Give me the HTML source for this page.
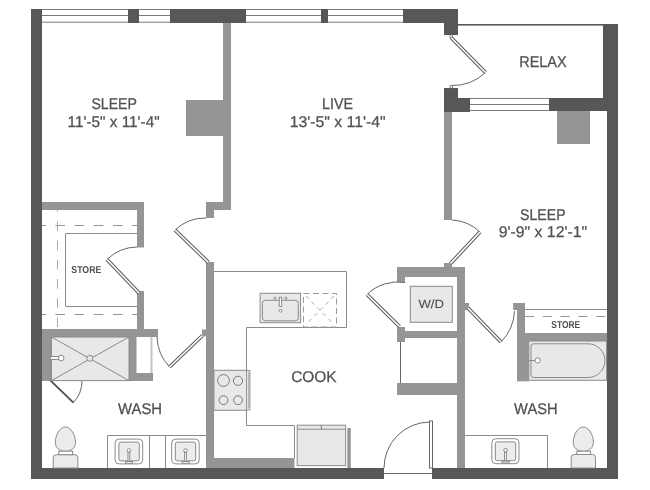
<!DOCTYPE html>
<html><head><meta charset="utf-8">
<style>
html,body{margin:0;padding:0;background:#fff;}
svg{display:block;}

text{font-family:"Liberation Sans",sans-serif;fill:#505050;text-rendering:geometricPrecision;}
</style></head>
<body>
<svg style="will-change:transform" width="650" height="490" viewBox="0 0 650 490">
<rect x="0" y="0" width="650" height="490" fill="#fff"/>
<!-- windows -->
<g stroke="#7a7a7a" stroke-width="1" fill="none">
<line x1="42" y1="9.5" x2="403" y2="9.5"/>
<line x1="42" y1="15.5" x2="403" y2="15.5"/>
<line x1="42" y1="22.2" x2="403" y2="22.2"/>
<line x1="470" y1="98.5" x2="549" y2="98.5"/>
<line x1="470" y1="104.5" x2="549" y2="104.5"/>
<line x1="470" y1="110.5" x2="549" y2="110.5"/>
</g>
<!-- light interior walls -->
<g fill="#959595">
<rect x="223" y="23" width="8" height="187"/>
<rect x="186" y="100" width="37" height="36"/>
<rect x="206" y="202" width="25" height="8"/>
<rect x="206" y="202" width="8" height="16"/>
<rect x="206" y="262" width="8" height="206"/>
<rect x="206" y="458" width="88.5" height="10"/>
<rect x="347.3" y="428" width="3.5" height="40"/>
<rect x="42" y="202" width="102" height="8"/>
<rect x="137" y="202" width="7" height="45.5"/>
<rect x="137" y="291" width="7" height="38"/>
<rect x="42" y="329" width="116" height="8"/>
<rect x="42" y="337" width="9.4" height="44"/>
<rect x="129" y="329" width="7.5" height="52"/>
<rect x="129" y="373" width="24" height="8"/>
<rect x="202" y="329.5" width="4" height="6.8"/>
<rect x="444" y="112" width="8" height="108"/>
<rect x="444" y="263" width="8" height="4"/>
<rect x="397" y="267" width="68" height="10"/>
<rect x="397" y="267" width="8" height="15"/>
<rect x="457" y="267" width="8" height="201"/>
<rect x="397" y="331" width="60" height="7"/>
<rect x="397" y="327" width="8" height="15"/>
<rect x="397" y="383" width="60" height="12"/>
<rect x="517" y="303" width="8" height="78"/>
<rect x="517" y="340" width="11.8" height="41.3"/>
<rect x="513.2" y="303" width="4" height="7"/>
<rect x="525" y="333" width="82" height="8"/>
<rect x="465" y="303" width="4" height="7"/>
<rect x="557" y="111" width="33" height="33"/>
<rect x="41.5" y="337" width="10" height="44"/>
</g>
<!-- dark walls -->
<g fill="#575757">
<rect x="31" y="9" width="11" height="470"/>
<rect x="31" y="468" width="353" height="11"/>
<rect x="432" y="468" width="186" height="11"/>
<rect x="607" y="98" width="11" height="381"/>
<rect x="603" y="24" width="15" height="87"/>
<rect x="128" y="9" width="11" height="14"/>
<rect x="170" y="9" width="76" height="14"/>
<rect x="321" y="9" width="7" height="14"/>
<rect x="403" y="9" width="55" height="14"/>
<rect x="444" y="9" width="14" height="26"/>
<rect x="444" y="88" width="14" height="24"/>
<rect x="458" y="98" width="12" height="14"/>
<rect x="549" y="98" width="69" height="13"/>
</g>
<!-- relax top thin line -->
<rect x="458" y="24" width="145" height="1.6" fill="#575757"/>
<!-- thin lines: counters, store shelves -->
<g stroke="#8a8a8a" stroke-width="1" fill="none">
<polyline points="214,271.5 346.5,271.5 346.5,327.5 246.5,327.5 246.5,425.5 294.5,425.5 294.5,458"/>
<polyline points="65.5,306 65.5,233.5 137,233.5"/>
<line x1="65.5" y1="306.5" x2="137" y2="306.5"/>
<line x1="465" y1="435.5" x2="547.5" y2="435.5"/>
<line x1="547.5" y1="435.5" x2="547.5" y2="468"/>
<polyline points="107.5,468 107.5,435.5 206,435.5"/>
<line x1="149.5" y1="435.5" x2="149.5" y2="468"/>
<line x1="165.5" y1="435.5" x2="165.5" y2="468"/>
<line x1="525" y1="309.5" x2="607" y2="309.5"/>
<line x1="151.5" y1="337" x2="151.5" y2="373" stroke="#c4c4c4" stroke-width="2"/>
<line x1="400.5" y1="342" x2="400.5" y2="383" stroke="#666"/>
<line x1="384" y1="473.5" x2="432" y2="473.5" stroke="#666"/>
</g>
<g stroke="#959595" stroke-width="1" fill="none" stroke-dasharray="9.6,9.6">
<line x1="42" y1="225.5" x2="137" y2="225.5" stroke-dashoffset="5.8"/>
<line x1="42" y1="314.5" x2="137" y2="314.5" stroke-dashoffset="5.8"/>
<line x1="57.5" y1="210" x2="57.5" y2="329" stroke-dashoffset="7.8" stroke="#aaa"/>
<line x1="525" y1="316.5" x2="607" y2="316.5" stroke-dasharray="9,8.8"/>
</g>
<!-- doors: arcs -->
<g stroke="#666" stroke-width="1" fill="none">
<path d="M485.5,72.5 A48,48 0 0 1 451,85.5"/>
<path d="M452,220 A44,44 0 0 1 480,232"/>
<path d="M206,218 A44,44 0 0 0 175,230"/>
<path d="M137,247 A44,44 0 0 0 107,259.5"/>
<path d="M405,282.5 A44,44 0 0 0 367,294.5"/>
<path d="M157,337 A46,46 0 0 0 169.5,367"/>
<path d="M514.5,311 A47.4,47.4 0 0 1 501,342"/>
<path d="M82,380.6 A31.7,31.7 0 0 1 73.4,402.6"/>
<path d="M430,422 A46,46 0 0 0 384,468"/>
</g>
<!-- door leaves -->
<g stroke="#5a5a5a" stroke-width="3.7" fill="none" stroke-linecap="butt">
<line x1="451" y1="37.5" x2="485.5" y2="72.5"/>
<line x1="450.5" y1="263.5" x2="480" y2="232"/>
<line x1="175" y1="230" x2="208.5" y2="262.5"/>
<line x1="107" y1="259.5" x2="139" y2="293"/>
<line x1="367" y1="294.5" x2="399.5" y2="326.5"/>
<line x1="169.5" y1="367" x2="202.5" y2="335.5"/>
<line x1="468" y1="308" x2="501" y2="342"/>
</g>
<g stroke="#fff" stroke-width="1.7" fill="none">
<line x1="451" y1="37.5" x2="485.5" y2="72.5"/>
<line x1="450.5" y1="263.5" x2="480" y2="232"/>
<line x1="175" y1="230" x2="208.5" y2="262.5"/>
<line x1="107" y1="259.5" x2="139" y2="293"/>
<line x1="367" y1="294.5" x2="399.5" y2="326.5"/>
<line x1="169.5" y1="367" x2="202.5" y2="335.5"/>
<line x1="468" y1="308" x2="501" y2="342"/>
</g>
<g fill="#fff" stroke="#777" stroke-width="0.8">
<rect x="450" y="35" width="2.6" height="2.5"/>
<rect x="450" y="85.5" width="2.6" height="2.5"/>
</g>
<line x1="50.6" y1="380.6" x2="73.4" y2="402.6" stroke="#555" stroke-width="2"/>
<rect x="429.5" y="421" width="3" height="47" fill="#fff" stroke="#666" stroke-width="1"/>
<!-- fixtures -->
<g stroke="#8a8a8a" stroke-width="1" fill="#e8e8e8">
<rect x="51.4" y="337" width="77.6" height="43.6"/>
<rect x="213.9" y="370.3" width="32.8" height="40"/>
<rect x="260.1" y="293.3" width="40.5" height="29.4"/>
<rect x="262.4" y="300.3" width="35.9" height="20.5" rx="3"/>
<rect x="297.2" y="425.2" width="48.4" height="40.4"/>
<rect x="410.3" y="286.3" width="42" height="36"/>
<rect x="528.8" y="341" width="77.8" height="39.3"/>
<path d="M533.5,343.8 H588 A17,16.85 0 0 1 588,377.5 H533.5 A2.5,2.5 0 0 1 531,375 V346.3 A2.5,2.5 0 0 1 533.5,343.8 Z"/>
</g>
<rect x="246.5" y="370.5" width="3.5" height="39.5" fill="#e4e4e4" stroke="#8a8a8a" stroke-width="0.8"/>
<line x1="249" y1="372" x2="249" y2="408" stroke="#aaa" stroke-width="1.4"/>
<g stroke="#8a8a8a" stroke-width="1" fill="#fff">
<rect x="115.1" y="439.1" width="27.6" height="24.8" rx="4"/>
<rect x="171.7" y="439.1" width="27.5" height="24.8" rx="4"/>
<rect x="491.8" y="438.7" width="27.2" height="25" rx="4"/>
</g>
<g stroke="#8a8a8a" stroke-width="1" fill="#ececec">
<rect x="118.9" y="442.1" width="20.4" height="18.8" rx="2"/>
<rect x="175.3" y="442.1" width="20.4" height="18.8" rx="2"/>
<rect x="495.3" y="441.9" width="20.4" height="18.8" rx="2"/>
<path d="M53.2,468 V457.7 A3,3 0 0 1 56.2,454.7 H74.9 A3,3 0 0 1 77.9,457.7 V468 Z"/>
<path d="M65.4,427 C70.8,427 75.5,435 75.5,442.3 C75.5,448 71,451.3 65.4,451.3 C59.8,451.3 55.3,448 55.3,442.3 C55.3,435 60,427 65.4,427 Z"/>
<path d="M571.2,468 V457.5 A3,3 0 0 1 574.2,454.5 H592.5 A3,3 0 0 1 595.5,457.5 V468 Z"/>
<path d="M583.3,427 C588.7,427 593.4,435 593.4,442.3 C593.4,448 589,451.3 583.3,451.3 C577.7,451.3 573.2,448 573.2,442.3 C573.2,435 577.9,427 583.3,427 Z"/>
</g>
<g stroke="#8a8a8a" stroke-width="1" fill="#fff">
<rect x="58.8" y="451.2" width="13.8" height="3.5"/>
<rect x="576.8" y="451.2" width="13.8" height="3.3"/>
</g>
<!-- sink faucets -->
<g stroke="#8a8a8a" stroke-width="1" fill="#fff">
<circle cx="128.9" cy="450.5" r="1.8"/>
<rect x="128" y="452.3" width="1.8" height="9.2"/>
<rect x="125.5" y="461.5" width="7" height="1.8"/>
<circle cx="185.5" cy="450.5" r="1.8"/>
<rect x="184.6" y="452.3" width="1.8" height="9.2"/>
<rect x="182.1" y="461.5" width="7" height="1.8"/>
<circle cx="505.5" cy="450.2" r="1.8"/>
<rect x="504.6" y="452" width="1.8" height="9.2"/>
<rect x="502.1" y="461.2" width="7" height="1.8"/>
<rect x="279.3" y="297.2" width="2.3" height="9.2"/>
<circle cx="275" cy="298.2" r="1.1"/>
<circle cx="285.9" cy="298.2" r="1.1"/>
<circle cx="280.5" cy="310.7" r="1.5"/>
</g>
<line x1="297.2" y1="429.2" x2="345.6" y2="429.2" stroke="#8a8a8a" stroke-width="1"/>
<line x1="321.4" y1="425.2" x2="321.4" y2="429.2" stroke="#777" stroke-width="1"/>
<g stroke="#8a8a8a" stroke-width="1" fill="none">
<line x1="51.4" y1="337" x2="129" y2="380.6"/>
<line x1="129" y1="337" x2="51.4" y2="380.6"/>
<circle cx="89.8" cy="358.3" r="3" fill="#e8e8e8"/>
<rect x="50.5" y="356.5" width="8" height="3" fill="#fff"/>
<circle cx="61.2" cy="358" r="2.8" fill="#fff"/>
<circle cx="223.5" cy="380.5" r="5.9" stroke="#7a7a7a"/>
<circle cx="238" cy="380.8" r="4.6" stroke="#7a7a7a"/>
<circle cx="223.5" cy="400.2" r="4.4" stroke="#7a7a7a"/>
<circle cx="238" cy="400.2" r="4.4" stroke="#7a7a7a"/>
<circle cx="537.7" cy="360.5" r="2.6" fill="#fff"/>
<line x1="528.8" y1="360.5" x2="535" y2="360.5"/>
</g>
<g stroke="#999" stroke-width="1" fill="none" stroke-dasharray="6,3.5">
<rect x="303.5" y="293.5" width="33" height="33.5"/>
</g>
<g stroke="#aaa" stroke-width="1" fill="none" stroke-dasharray="4,4">
<line x1="306" y1="296" x2="334" y2="324.5"/>
<line x1="334" y1="296" x2="306" y2="324.5"/>
</g>
<!-- text -->
<g font-size="15.5" stroke="#505050" stroke-width="0.25" text-anchor="middle" lengthAdjust="spacingAndGlyphs">
<text x="114.2" y="108.6" textLength="45.5" lengthAdjust="spacingAndGlyphs">SLEEP</text>
<text x="113.6" y="127" textLength="92" lengthAdjust="spacingAndGlyphs">11'-5" x 11'-4"</text>
<text x="337.6" y="108.8" textLength="31" lengthAdjust="spacingAndGlyphs">LIVE</text>
<text x="337.7" y="127" textLength="96" lengthAdjust="spacingAndGlyphs">13'-5" x 11'-4"</text>
<text x="542.8" y="219.6" textLength="45.5" lengthAdjust="spacingAndGlyphs">SLEEP</text>
<text x="542.9" y="237.3" textLength="88.5" lengthAdjust="spacingAndGlyphs">9'-9" x 12'-1"</text>
<text x="542.95" y="67" textLength="47.5" lengthAdjust="spacingAndGlyphs">RELAX</text>
<text x="313.9" y="382.2" textLength="45.5" lengthAdjust="spacingAndGlyphs">COOK</text>
<text x="140.1" y="414" textLength="44" lengthAdjust="spacingAndGlyphs">WASH</text>
<text x="535.85" y="414.1" textLength="43.5" lengthAdjust="spacingAndGlyphs">WASH</text>
</g>
<text x="431.2" y="307.8" font-size="12" text-anchor="middle" textLength="25.5" lengthAdjust="spacingAndGlyphs" stroke="#505050" stroke-width="0.1">W/D</text>
<g font-size="10" font-weight="bold" text-anchor="middle">
<text x="86.3" y="273" textLength="30" lengthAdjust="spacingAndGlyphs">STORE</text>
<text x="565.75" y="328" textLength="29" lengthAdjust="spacingAndGlyphs">STORE</text>
</g>
</svg>
</body></html>
